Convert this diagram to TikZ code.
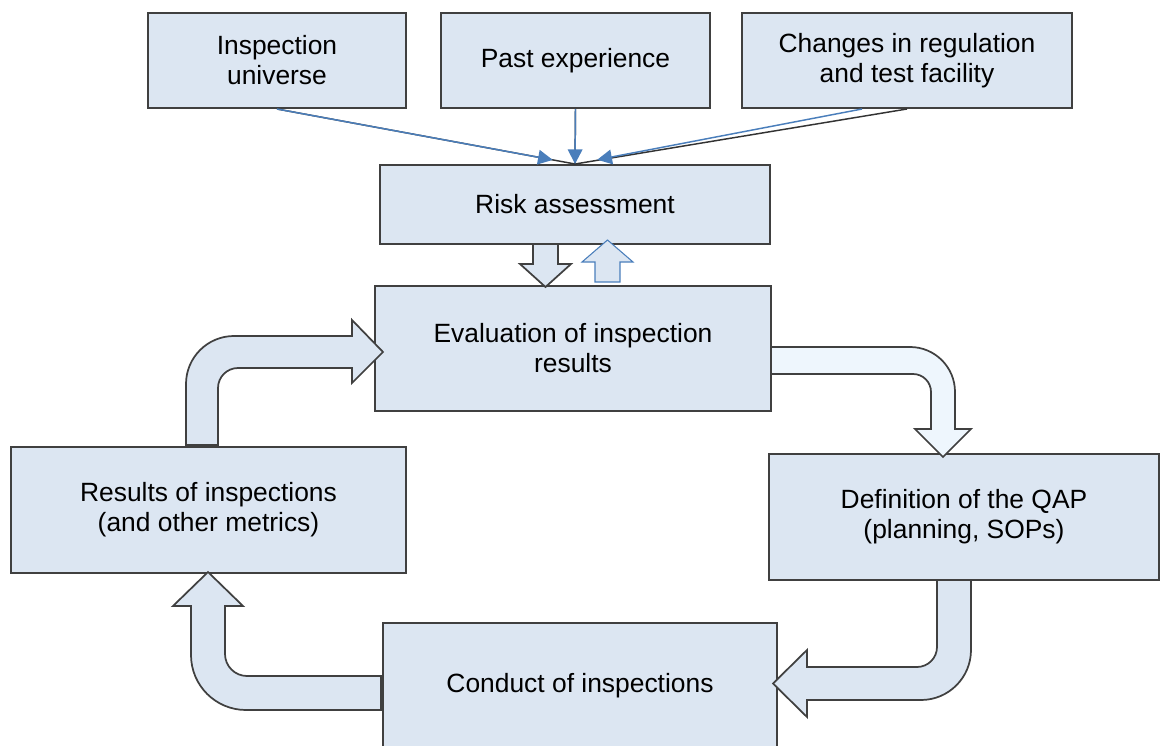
\documentclass[tikz,border=0pt]{standalone}
\usepackage{fontspec}
\setmainfont{Liberation Sans}
\usetikzlibrary{arrows.meta}
\definecolor{boxfill}{HTML}{DCE6F2}
\definecolor{boxline}{HTML}{404040}
\definecolor{feedblue}{HTML}{4A7EBB}
\definecolor{palefill}{HTML}{EEF6FD}
\tikzset{
	box/.style={draw=boxline, fill=boxfill, line width=1.5pt, inner sep=0pt, align=center, font=\fontsize{19.8}{22.5}\selectfont},
	feedline/.style={draw=black!80, line width=1.1pt},
	feed/.style={draw=feedblue, line width=1.1pt, -{Triangle[length=11pt,width=11pt]}},
	blockarrow/.style={draw=boxline, fill=boxfill, line width=1.3pt, line join=miter},
}

\begin{document}
\begin{tikzpicture}[x=0.75pt, y=-0.75pt]
	\useasboundingbox (0,0) rectangle (1161,746);

	\node[box, minimum width=193.5pt, minimum height=71.25pt] (univ) at (277,60.5) {Inspection\\universe};
	\node[box, minimum width=201.75pt, minimum height=71.25pt] (past) at (575.5,60.5) {Past experience};
	\node[box, minimum width=247.5pt, minimum height=71.25pt] (change) at (907,60.5) {Changes in regulation\\and test facility};
	\node[box, minimum width=292.5pt, minimum height=59.25pt] (risk) at (575,204.5) {Risk assessment};
	\node[box, minimum width=297pt, minimum height=93.75pt] (eval) at (573,348.5) {Evaluation of inspection\\results};
	\node[box, minimum width=292.5pt, minimum height=94.5pt] (qap) at (964,517) {Definition of the QAP\\(planning, SOPs)};
	\node[box, minimum width=296.25pt, minimum height=94.5pt] (results) at (208.5,510) {Results of inspections\\(and other metrics)};
	\node[box, minimum width=295.5pt, minimum height=94.5pt] (conduct) at (580,686) {Conduct of inspections};

	\draw[blockarrow] (533,244) -- (533,264) -- (520,264) -- (545.5,287) -- (571,264) -- (558,264) -- (558,244) -- cycle;
	\draw[blockarrow, draw=feedblue, line width=0.8pt] (595,282) -- (595,262) -- (582,262) -- (607.5,240) -- (633,262) -- (620,262) -- (620,282) -- cycle;

	\draw[blockarrow] (186,445) -- (186,384) .. controls (186,357.5) and (207.5,336) .. (234,336) -- (352,336) -- (352,320) -- (383,352) -- (352,383) -- (352,368) -- (238,368) .. controls (227,368) and (218,377) .. (218,388) -- (218,445) -- cycle;
	\draw[blockarrow, fill=palefill] (771,347) -- (910,347) .. controls (934.9,347) and (955,367.1) .. (955,392) -- (955,429) -- (971,429) -- (943,457) -- (915,429) -- (931,429) -- (931,392) .. controls (931,382) and (923,374) .. (913,374) -- (771,374) -- cycle;
	\draw[blockarrow] (937,580) -- (971,580) -- (971,650) .. controls (971,677.6) and (948.6,700) .. (921,700) -- (807,700) -- (807,717) -- (773,683.5) -- (807,650) -- (807,667) -- (917,667) .. controls (928,667) and (937,658) .. (937,647) -- cycle;
	\draw[blockarrow] (381,676) -- (247,676) .. controls (234.9,676) and (225,666.1) .. (225,654) -- (225,606) -- (243,606) -- (208,572) -- (173,606) -- (191,606) -- (191,655) .. controls (191,685.4) and (215.6,710) .. (246,710) -- (381,710) -- cycle;

	\draw[feedline] (univ.south) -- (risk.north);
	\draw[feedline] (past.south) -- (risk.north);
	\draw[feedline] (change.south) -- (risk.north);
	\draw[feed, shorten >=17pt] (univ.south) -- (risk.north);
	\draw[feed] (past.south) -- (risk.north);
	\draw[feed, shorten >=17pt] ([xshift=-33.75pt]change.south) -- (risk.north);
\end{tikzpicture}
\end{document}
